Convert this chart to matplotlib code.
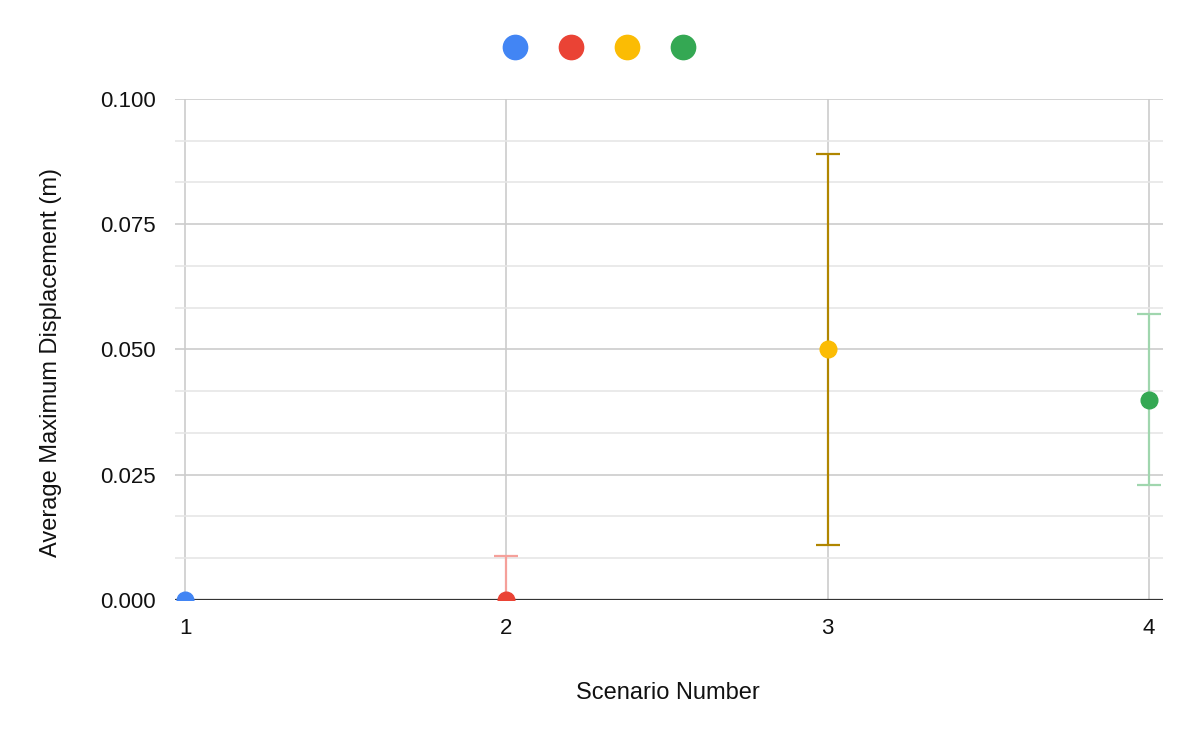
import numpy as np
import matplotlib
matplotlib.use("Agg")
import matplotlib.pyplot as plt
from matplotlib.lines import Line2D

plt.rcParams["font.family"] = ["Liberation Sans", "DejaVu Sans"]

scenarios = [1, 2, 3, 4]
means = [0.0, 0.0, 0.05, 0.04]
errs = [0.0, 0.0088, 0.039, 0.017]
colors = ["#4285f4", "#ea4335", "#fbbc04", "#34a853"]
err_colors = ["#a0c3fa", "#f5a09a", "#b08600", "#a0d6ae"]

fig = plt.figure(figsize=(12, 7.42), dpi=100)
ax = fig.add_axes([0.1458, 0.1914, 0.8234, 0.6752])

for x, m, e, c, ec in zip(scenarios, means, errs, colors, err_colors):
    if e > 0:
        ax.errorbar(x, m, yerr=e, fmt="none", ecolor=ec, elinewidth=1.6,
                    capsize=8.6, capthick=1.6, zorder=3)
    ax.plot(x, m, "o", color=c, markersize=12, zorder=4)

ax.set_xlim(0.968, 4.044)
ax.set_ylim(0, 0.1)
ax.set_xticks(scenarios)
ax.set_xticklabels([str(s) for s in scenarios])
major = np.arange(0, 0.1001, 0.025)
ax.set_yticks(major)
ax.set_yticklabels(["%.3f" % v for v in major])
minor = [v for v in np.arange(0, 0.1, 0.025 / 3) if abs((v / 0.025) - round(v / 0.025)) > 0.01]
ax.set_yticks(minor, minor=True)

ax.grid(axis="y", which="major", color="#cccccc", lw=1.2, zorder=0)
ax.grid(axis="y", which="minor", color="#e6e6e6", lw=1.2, zorder=0)
ax.grid(axis="x", which="major", color="#cccccc", lw=1.2, zorder=0)
ax.axhline(0, color="#333333", lw=1.6, zorder=2)
ax.set_axisbelow(True)

for s in ax.spines.values():
    s.set_visible(False)
ax.tick_params(axis="both", which="both", length=0, labelsize=16, colors="#111111")
ax.tick_params(axis="y", pad=14)
ax.tick_params(axis="x", pad=13)

ax.set_xlabel("Scenario Number", fontsize=17, color="#111111")
ax.set_ylabel("Average Maximum Displacement (m)", fontsize=17, color="#111111")
ax.xaxis.set_label_coords(0.4985, -0.164)
ax.yaxis.set_label_coords(-0.114, 0.475)

handles = [Line2D([], [], ls="none", marker="o", color=c, markersize=17.5) for c in colors]
fig.legend(handles, [""] * 4, loc="center", bbox_to_anchor=(0.499, 0.935), ncol=4,
           frameon=False, handletextpad=0, handlelength=2.0, columnspacing=2.03)

fig.savefig("out.png", dpi=100)
